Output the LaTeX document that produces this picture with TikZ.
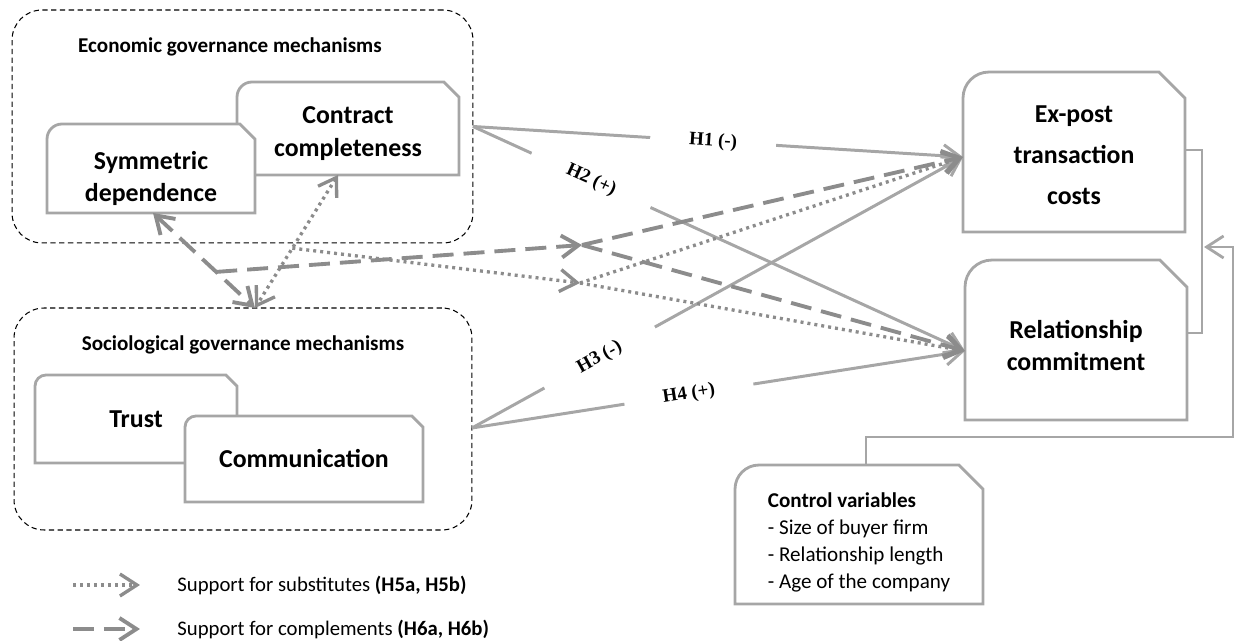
\documentclass[tikz,border=0pt]{standalone}
\usepackage{fontspec}
\setmainfont{Carlito}
\newfontfamily\hypfont{Liberation Serif}
\usetikzlibrary{arrows.meta,calc}

\definecolor{boxgray}{HTML}{A6A6A6}
\definecolor{modgray}{HTML}{8C8C8C}

\tikzset{
  frame/.style={draw=boxgray, line width=1.6pt, fill=white},
  link/.style={draw=boxgray, line width=1.6pt},
  group/.style={draw=black, densely dashed, line width=0.6pt, rounded corners=0.6cm, inner sep=0pt, outer sep=0pt},
  grouptitle/.style={font=\bfseries\fontsize{12}{14}\selectfont},
  tabbox/.style={inner sep=0pt, outer sep=0pt},
  tabtext/.style={align=center, font=\bfseries\fontsize{14.7}{18.7}\selectfont},
  hyp/.style={draw=boxgray, line width=1.7pt},
  hlabel/.style={fill=white, sloped, inner xsep=0.78cm, inner ysep=1pt, font=\hypfont\bfseries\fontsize{10.8}{12}\selectfont},
  subst/.style={draw=modgray, line width=1.9pt, dash pattern=on 0.06cm off 0.08cm},
  compl/.style={draw=modgray, line width=2.2pt, dash pattern=on 0.42cm off 0.2cm},
  legtext/.style={inner xsep=0pt, font=\fontsize{11.8}{14}\selectfont},
}

% box with rounded top-left and cut top-right corner
\def\tabshift{0cm}
\newcommand\tabnode[6][0.3cm]{%
  \node[tabbox, minimum width=#4, minimum height=#5] (#2) at (#3) {};
  \draw[frame] (#2.south west) -- ([yshift=-#1]#2.north west)
    arc[start angle=180, end angle=90, radius=#1]
    -- ([xshift=-#1]#2.north east) -- ([yshift=-#1]#2.north east)
    -- (#2.south east) -- cycle;
  \node[tabtext, yshift=\tabshift] at (#2) {#6};}

\begin{document}
\begin{tikzpicture}[x=0.02cm, y=-0.02cm, >={Straight Barb[length=3.4mm,width=4.4mm]}]
  \useasboundingbox (0,0) rectangle (1235,641);

  %% groups
  \node[group, minimum width=9.22cm, minimum height=4.66cm] (econ) at (242.5,126.5) {};
  \node[grouptitle] (econ-title) at (230,47) {Economic governance mechanisms};
  \node[group, minimum width=9.16cm, minimum height=4.44cm] (socio) at (243,419) {};
  \node[grouptitle] (socio-title) at (243,345) {Sociological governance mechanisms};

  %% variables
  \def\tabshift{-0.1cm}
  \tabnode{contr}{348,128.5}{4.44cm}{1.86cm}{Contract\\completeness}
  \def\tabshift{-0.2cm}
  \tabnode{sym}{151,168.5}{4.16cm}{1.78cm}{Symmetric\\dependence}
  \def\tabshift{0cm}
  \tabnode[0.22cm]{trust}{136,419}{4.04cm}{1.76cm}{Trust}
  \tabnode[0.22cm]{comm}{304,459}{4.76cm}{1.72cm}{Communication}
  \def\tabshift{-0.06cm}
  \tabnode[0.52cm]{expost}{1074,152}{4.44cm}{3.2cm}{Ex-post\\[4.5pt]transaction\\[4.5pt]costs}
  \def\tabshift{-0.11cm}
  \tabnode[0.54cm]{rel}{1076,340}{4.44cm}{3.2cm}{Relationship\\commitment}
  \def\tabshift{-0.16cm}
  \tabnode[0.48cm]{ctrl}{859,534.5}{4.96cm}{2.78cm}{\normalfont\fontsize{12}{15.3}\selectfont
    \begin{tabular}{@{}l@{}}\textbf{Control variables}\\- Size of buyer firm\\- Relationship length\\- Age of the company\end{tabular}}

  \coordinate (ex-in) at ([yshift=-0.1cm]expost.west);
  \coordinate (rel-in) at ([yshift=-0.22cm]rel.west);
  \coordinate (socio-out) at ([yshift=-0.18cm]socio.east);
  \coordinate (socio-top) at ([xshift=0.24cm]socio.north);
  \coordinate (sym-bot) at ([xshift=0.04cm]sym.south);
  \coordinate (contr-bot) at ([xshift=-0.2cm]contr.south);

  %% hypotheses
  \draw[hyp,->] (econ.east) -- node[hlabel,pos=0.49] {H1 (-)} (ex-in);
  \draw[hyp,->] (econ.east) -- node[hlabel,pos=0.24] {H2 (+)} (rel-in);
  \draw[hyp,->] (socio-out) -- node[hlabel,pos=0.26] {H3 (-)} (ex-in);
  \draw[hyp,->] (socio-out) -- node[hlabel,pos=0.44] {H4 (+)} (rel-in);

  %% substitutes / complements
  \draw[compl,<->] (sym-bot) -- coordinate[pos=0.62] (c-from) (socio-top);
  \draw[subst,<->] (contr-bot) -- coordinate[pos=0.55] (s-from) (socio-top);
  \coordinate (c-join) at (582,245);
  \coordinate (s-join) at (580,283);
  \draw[compl,->] (c-from) -- (c-join);
  \draw[compl,->] (c-join) -- (ex-in);
  \draw[compl,->] (c-join) -- (rel-in);
  \draw[subst,->] (s-from) -- (s-join);
  \draw[subst,->] (s-join) -- (ex-in);
  \draw[subst,->] (s-join) -- (rel-in);

  %% controls
  \draw[link] ([yshift=0.04cm]expost.east) -- ++(0.34cm,0) |- ([yshift=0.14cm]rel.east);
  \coordinate (fb) at (1204,247);
  \draw[link,->] ([xshift=0.14cm]ctrl.north) |- (1233,437) |- (fb);

  %% legend
  \coordinate (leg1) at (73,585);
  \coordinate (leg2) at (73,629);
  \node[legtext, anchor=west] (leg-sub) at (177,585) {Support for substitutes \textbf{(H5a, H5b)}};
  \node[legtext, anchor=west] (leg-com) at (177,629) {Support for complements \textbf{(H6a, H6b)}};
  \draw[subst,->] (leg1) -- ++(1.34cm,0);
  \draw[compl,->] (leg2) -- ++(1.34cm,0);
\end{tikzpicture}
\end{document}
